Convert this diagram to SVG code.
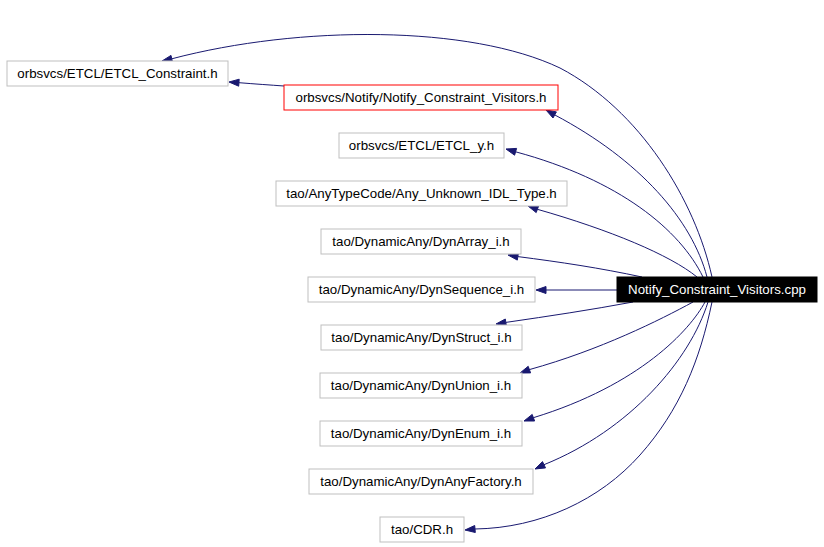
<svg xmlns="http://www.w3.org/2000/svg" width="824" height="547" viewBox="0 0 824 547">
<style>
.n rect{fill:#ffffff;stroke:#bfbfbf;stroke-width:1}
.n text,.c text{font-family:"Liberation Sans",Arial,sans-serif;font-size:13.3px;text-anchor:middle;fill:#000000}
.red rect{stroke:#ff0000}
.main rect{fill:#000000;stroke:#000000}
.main text{fill:#ffffff}
.e path{fill:none;stroke:#191970;stroke-width:1}
.e polygon{fill:#191970;stroke:#191970;stroke-width:1}
</style>
<rect x="0" y="0" width="824" height="547" fill="#ffffff"/>
<g id="edges" class="e">
<path d="M712,277 C695,200 640,110 560,68 C470,25 300,25 171.8,58.8"/>
<polygon points="162,61 172.5,62.2 171,55.4"/>
<path d="M284,86 C270,85 255,84 239,82.7"/>
<polygon points="229,82 239.2,79.2 238.7,86.2"/>
<path d="M707,277 C692,220 640,160 554.7,114.9"/>
<polygon points="546,110 556.4,111.9 553,118"/>
<path d="M703,277 C680,230 620,180 515.6,151.8"/>
<polygon points="506,149 516.6,148.4 514.6,155.2"/>
<path d="M697,277 C670,255 610,230 537.4,209.3"/>
<polygon points="528,206 538.6,206 536.2,212.6"/>
<path d="M642,277 C600,268 560,262 517.9,256.6"/>
<polygon points="508,255 518.4,253.2 517.3,260.1"/>
<path d="M617,290 L546,290"/>
<polygon points="536,290 546,286.5 546,293.5"/>
<path d="M633,302 C590,310 550,316 505.9,322.4"/>
<polygon points="496,324 506.4,325.9 505.3,319"/>
<path d="M693,302 C660,320 600,350 529.4,369.6"/>
<polygon points="520,373 530.6,372.9 528.2,366.3"/>
<path d="M705,302 C690,330 640,385 533.4,417.7"/>
<polygon points="524,421 534.6,421 532.2,414.4"/>
<path d="M708,302 C690,360 630,430 544,464.7"/>
<polygon points="535,469 545.5,467.9 542.5,461.6"/>
<path d="M712,302 C700,360 680,410 640,455 C600,500 540,528 475,529"/>
<polygon points="465,530 475.3,532.5 474.7,525.5"/>
</g>
<g id="node_etcl_constraint" class="n"><rect x="7" y="61" width="221" height="25"/><text x="117.5" y="78">orbsvcs/ETCL/ETCL_Constraint.h</text></g>
<g id="node_notify_visitors_h" class="n red"><rect x="284" y="85" width="274" height="25"/><text x="421" y="102">orbsvcs/Notify/Notify_Constraint_Visitors.h</text></g>
<g id="node_etcl_y" class="n"><rect x="339" y="133" width="165" height="25"/><text x="421.5" y="150">orbsvcs/ETCL/ETCL_y.h</text></g>
<g id="node_any_unknown" class="n"><rect x="276" y="181" width="291" height="25"/><text x="421.5" y="198">tao/AnyTypeCode/Any_Unknown_IDL_Type.h</text></g>
<g id="node_dynarray" class="n"><rect x="321" y="229" width="200" height="25"/><text x="421" y="246">tao/DynamicAny/DynArray_i.h</text></g>
<g id="node_dynsequence" class="n"><rect x="308" y="277" width="227" height="25"/><text x="421.5" y="294">tao/DynamicAny/DynSequence_i.h</text></g>
<g id="node_dynstruct" class="n"><rect x="321" y="325" width="201" height="25"/><text x="421.5" y="342">tao/DynamicAny/DynStruct_i.h</text></g>
<g id="node_dynunion" class="n"><rect x="320" y="373" width="202" height="25"/><text x="421" y="390">tao/DynamicAny/DynUnion_i.h</text></g>
<g id="node_dynenum" class="n"><rect x="320" y="421" width="202" height="25"/><text x="421" y="438">tao/DynamicAny/DynEnum_i.h</text></g>
<g id="node_dynanyfactory" class="n"><rect x="309" y="469" width="224" height="25"/><text x="421" y="486">tao/DynamicAny/DynAnyFactory.h</text></g>
<g id="node_cdr" class="n"><rect x="380" y="517" width="84" height="25"/><text x="422" y="534">tao/CDR.h</text></g>
<g id="node_main_cpp" class="n main"><rect x="617" y="277" width="200" height="25"/><text x="717" y="294">Notify_Constraint_Visitors.cpp</text></g>
</svg>
